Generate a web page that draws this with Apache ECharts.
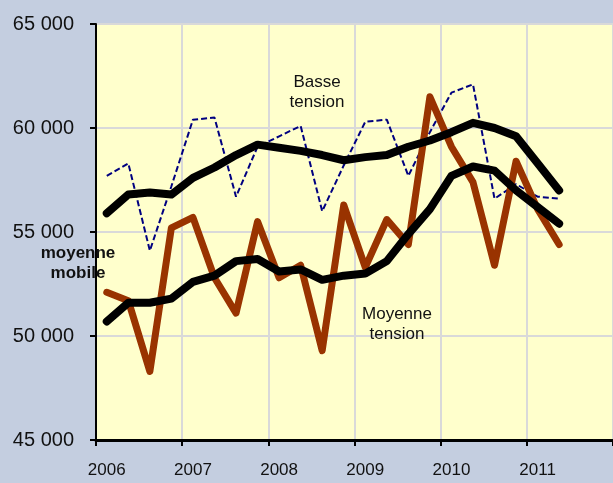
<!DOCTYPE html>
<html>
<head>
<meta charset="utf-8">
<script src="https://cdn.jsdelivr.net/npm/echarts@6/dist/echarts.min.js"></script>
<style>
  html, body { margin: 0; padding: 0; background: #c4cee0; }
  #chart { width: 613px; height: 483px; }
</style>
</head>
<body>
<div id="chart"></div>
<script>
const years = ['2006', '2007', '2008', '2009', '2010', '2011']
const quarters = ['T1', 'T2', 'T3', 'T4']
// trimestres 2006 T1 -> 2011 T4 (données jusqu'à 2011 T2)
const categories = years.flatMap(y => quarters.map(q => y + ' ' + q))

const basseTension = [57700, 58300, 54100, 57200, 60400, 60500, 56700, 59100, 59600, 60100, 56000, 58200,
  60300, 60400, 57700, 59800, 61700, 62100, 56600, 57300, 56700, 56600]
const basseMobile = [55900, 56800, 56900, 56800, 57600, 58100, 58700, 59200, 59050, 58900, 58700, 58450,
  58600, 58700, 59100, 59400, 59800, 60250, 60000, 59600, 58300, 57000]
const moyenneTension = [52100, 51700, 48300, 55200, 55700, 52800, 51100, 55500, 52800, 53400, 49300, 56300,
  53300, 55600, 54400, 61500, 59100, 57400, 53400, 58400, 56100, 54400]
const moyenneMobile = [50700, 51600, 51600, 51800, 52600, 52900, 53600, 53700, 53100, 53200, 52700, 52900,
  53000, 53600, 54900, 56100, 57700, 58150, 57950, 57000, 56200, 55400]

const yTicks = { min: 45000, max: 65000, step: 5000 }
const font = '"Liberation Sans", Arial, sans-serif'

const chart = echarts.init(document.getElementById('chart'))

function fmt(v) {
  return String(v).replace(/\B(?=(\d{3})+(?!\d))/g, ' ')
}

function note(text, x, y, bold) {
  return {
    type: 'text', x, y, z: 10,
    style: {
      text, align: 'center', verticalAlign: 'middle',
      fontSize: 17, lineHeight: 20, fontFamily: font,
      fontWeight: bold ? 'bold' : 'normal', fill: '#111'
    }
  }
}

const option = {
  backgroundColor: '#c4cee0',
  animation: false,
  grid: {
    left: 96,
    right: 0,
    top: 24,
    bottom: 43,
    show: true,
    backgroundColor: '#ffffcc',
    borderWidth: 0
  },
  xAxis: {
    type: 'category',
    data: categories,
    boundaryGap: true,
    axisLine: { lineStyle: { color: '#000', width: 3 } },
    axisTick: { show: true, interval: 3, length: 6, lineStyle: { color: '#000', width: 2 } },
    axisLabel: {
      interval: 3,
      margin: 22,
      color: '#111',
      fontSize: 17,
      fontFamily: font,
      formatter: v => v.slice(0, 4)
    },
    splitLine: { show: true, interval: 3, lineStyle: { color: '#d9d9d9', width: 2 } }
  },
  yAxis: {
    type: 'value',
    min: yTicks.min,
    max: yTicks.max,
    interval: yTicks.step,
    axisLine: { show: true, lineStyle: { color: '#000', width: 2 } },
    axisTick: { show: true, length: 6, lineStyle: { color: '#000', width: 2 } },
    axisLabel: {
      margin: 22,
      color: '#111',
      fontSize: 20,
      fontFamily: font,
      formatter: fmt
    },
    splitLine: { show: true, lineStyle: { color: '#d9d9d9', width: 2 } }
  },
  series: [
    {
      name: 'Basse tension',
      type: 'line',
      data: basseTension,
      symbol: 'none',
      lineStyle: { color: '#000080', width: 2, type: [6, 3] },
      z: 2
    },
    {
      name: 'Moyenne tension',
      type: 'line',
      data: moyenneTension,
      symbol: 'none',
      lineStyle: { color: '#993300', width: 7, cap: 'round', join: 'round' },
      z: 3
    },
    {
      name: 'Basse tension - moyenne mobile',
      type: 'line',
      data: basseMobile,
      symbol: 'none',
      lineStyle: { color: '#000', width: 8, cap: 'round', join: 'round' },
      z: 4
    },
    {
      name: 'Moyenne tension - moyenne mobile',
      type: 'line',
      data: moyenneMobile,
      symbol: 'none',
      lineStyle: { color: '#000', width: 8, cap: 'round', join: 'round' },
      z: 4
    }
  ],
  graphic: [
    note('Basse\ntension', 317, 92, false),
    note('Moyenne\ntension', 397, 324, false),
    note('moyenne\nmobile', 78, 263, true)
  ]
}

chart.setOption(option)
</script>
</body>
</html>
